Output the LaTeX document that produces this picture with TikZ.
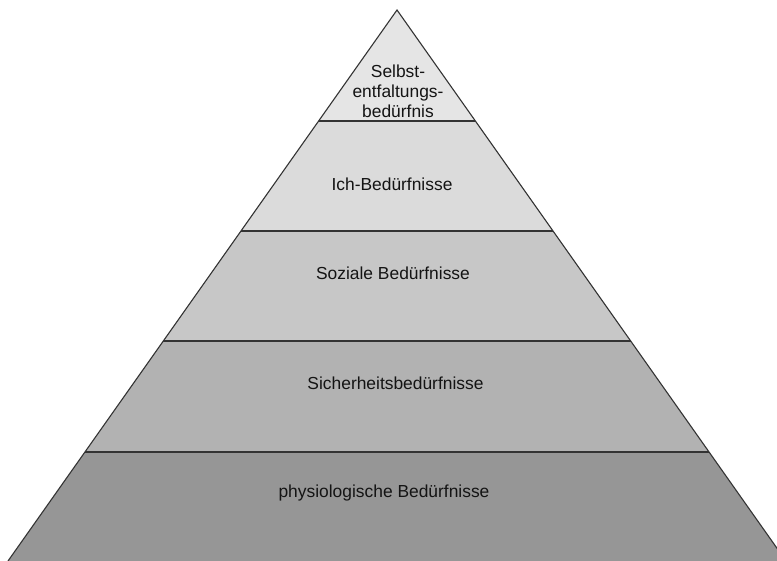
\documentclass[tikz,border=0pt]{standalone}
\usepackage{fontspec}
\setmainfont{Liberation Sans}
\begin{document}
\begin{tikzpicture}[x=1pt,y=-1pt,
  layer/.style={draw=black!80,line width=1.1pt,line join=miter},
  lab/.style={inner sep=0pt,text=black!92,font=\fontsize{17.4}{20}\selectfont,align=center}]
\useasboundingbox (0,0) rectangle (777,561);
\clip (0,0) rectangle (777,561);
% boundary coordinates
\coordinate (apex) at (397,10);
\coordinate (l1) at (318.6,121); \coordinate (r1) at (475.4,121);
\coordinate (l2) at (241,231);   \coordinate (r2) at (553,231);
\coordinate (l3) at (163.3,341); \coordinate (r3) at (630.7,341);
\coordinate (l4) at (84.9,452);  \coordinate (r4) at (709.1,452);
\coordinate (l5) at (8,561);     \coordinate (r5) at (786,561);
% layers
\fill[black!10] (apex) -- (r1) -- (l1) -- cycle;
\fill[black!14] (l1) -- (r1) -- (r2) -- (l2) -- cycle;
\fill[black!22] (l2) -- (r2) -- (r3) -- (l3) -- cycle;
\fill[black!30] (l3) -- (r3) -- (r4) -- (l4) -- cycle;
\fill[black!41] (l4) -- (r4) -- (r5) -- (l5) -- cycle;
\draw[layer] (l1) -- (r1);
\draw[layer] (l2) -- (r2);
\draw[layer] (l3) -- (r3);
\draw[layer] (l4) -- (r4);
\draw[layer] (l5) -- (apex) -- (r5);
% labels
\node[lab] (t1) at (398,91) {Selbst-\\entfaltungs-\\bedürfnis};
\node[lab] (t2) at (392,184) {Ich-Bedürfnisse};
\node[lab] (t3) at (393,273) {Soziale Bedürfnisse};
\node[lab] (t4) at (395.5,383) {Sicherheitsbedürfnisse};
\node[lab] (t5) at (384,493) {physiologische Bedürfnisse};
\end{tikzpicture}
\end{document}
